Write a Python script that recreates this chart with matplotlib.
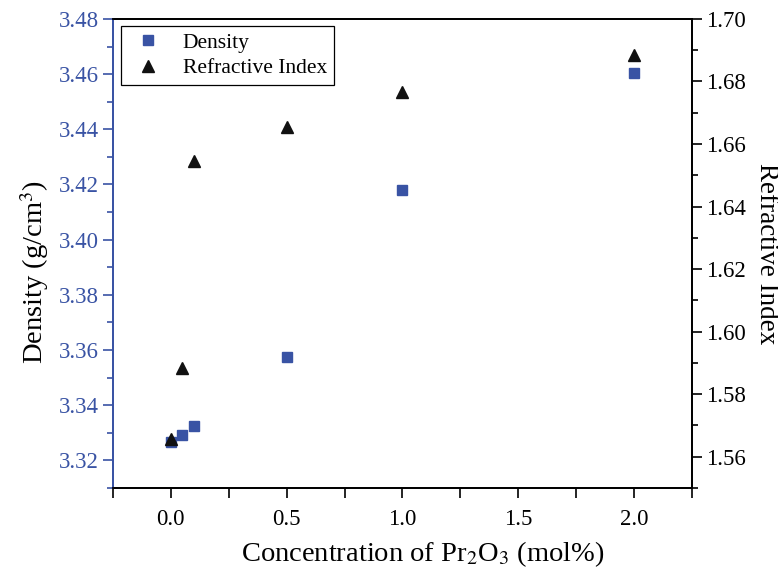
import matplotlib
matplotlib.use('Agg')
import matplotlib.pyplot as plt
from matplotlib.ticker import MultipleLocator, FormatStrFormatter

# data
conc = [0.0, 0.05, 0.1, 0.5, 1.0, 2.0]
density = [3.3265, 3.329, 3.3325, 3.3575, 3.418, 3.4605]
ref_index = [1.5655, 1.5885, 1.6545, 1.6655, 1.6765, 1.6885]

blue = '#3953a4'

plt.rcParams['font.family'] = ['Liberation Serif', 'DejaVu Serif']
plt.rcParams['mathtext.fontset'] = 'stix'

fig = plt.figure(figsize=(7.78, 5.74), dpi=100)
ax = fig.add_axes([0.1452, 0.150, 0.7442, 0.817])
ax2 = ax.twinx()

ln1, = ax.plot(conc, density, 's', color=blue, markersize=7, label='Density')
ln2, = ax2.plot(conc, ref_index, '^', color='#111111', markersize=8.5, label='Refractive Index')

# x axis
ax.set_xlim(-0.25, 2.25)
ax.xaxis.set_major_locator(MultipleLocator(0.5))
ax.xaxis.set_minor_locator(MultipleLocator(0.25))
ax.xaxis.set_major_formatter(FormatStrFormatter('%.1f'))
ax.set_xlabel('Concentration of Pr$_2$O$_3$ (mol%)', fontsize=20.5, labelpad=7)
ax.xaxis.label.set_x(0.535)

# left axis (density)
ax.set_ylim(3.31, 3.48)
ax.yaxis.set_major_locator(MultipleLocator(0.02))
ax.yaxis.set_minor_locator(MultipleLocator(0.01))
ax.yaxis.set_major_formatter(FormatStrFormatter('%.2f'))
ax.set_ylabel('Density (g/cm$^3$)', fontsize=20.5, labelpad=6)
ax.yaxis.label.set_y(0.46)
ax.spines['left'].set_color(blue)
ax.tick_params(axis='y', which='both', colors=blue, labelsize=16.5)
ax.yaxis.label.set_color('black')

# right axis (refractive index)
ax2.set_ylim(1.55, 1.70)
ax2.yaxis.set_major_locator(MultipleLocator(0.02))
ax2.yaxis.set_minor_locator(MultipleLocator(0.01))
ax2.yaxis.set_major_formatter(FormatStrFormatter('%.2f'))
ax2.set_ylabel('Refractive Index', fontsize=19.5, rotation=270, labelpad=24)
ax2.tick_params(axis='y', which='both', labelsize=16.5)
ax2.spines['left'].set_color(blue)

for a in (ax, ax2):
    a.tick_params(which='major', direction='out', length=7, width=1.2)
    a.tick_params(which='minor', direction='out', length=4, width=1.2)
    for s in a.spines.values():
        s.set_linewidth(1.3)
ax.tick_params(axis='x', which='both', length=7, labelsize=16.5, pad=8)
ax.tick_params(axis='y', pad=3)
ax2.tick_params(axis='y', pad=3)

leg = ax.legend(handles=[ln1, ln2], loc='upper left', fontsize=15.5, fancybox=False,
                edgecolor='black', framealpha=1, borderaxespad=0.35,
                handletextpad=0.6, labelspacing=0.25, borderpad=0.3)
leg.get_frame().set_linewidth(0.9)

fig.savefig('out.png', dpi=100)
